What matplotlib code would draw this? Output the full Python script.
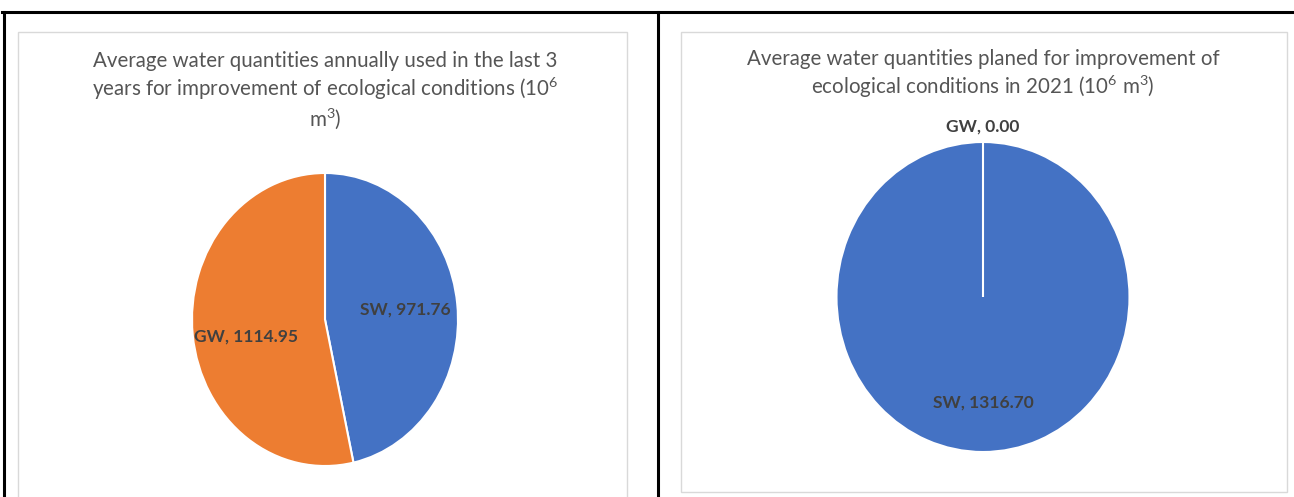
import matplotlib
matplotlib.use("Agg")
import matplotlib.pyplot as plt
from matplotlib.lines import Line2D
from matplotlib.patches import Rectangle
import numpy as np

plt.rcParams['font.family'] = ['Lato', 'DejaVu Sans']
plt.rcParams['mathtext.fontset'] = 'custom'
plt.rcParams['mathtext.rm'] = 'Lato'
plt.rcParams['mathtext.it'] = 'Lato:italic'
plt.rcParams['mathtext.bf'] = 'Lato:bold'
plt.rcParams['mathtext.default'] = 'rm'

# Data
categories = ["SW", "GW"]
used_last3 = [971.76, 1114.95]
planned_2021 = [1316.70, 0.00]
titles = [
    "Average water quantities annually used in the last 3\nyears for improvement of ecological conditions (10$^{6}$\nm$^{3}$)",
    "Average water quantities planed for improvement of\necological conditions in 2021 (10$^{6}$ m$^{3}$)",
]
colors = ["#4472C4", "#ED7D31"]

W, H = 1294, 497
fig = plt.figure(figsize=(W / 100, H / 100), dpi=100)
fig.patch.set_facecolor("white")


def fx(x):
    return x / W


def fy(y):
    return 1 - y / H


# table borders
for (x0, y0, x1, y1) in [(2, 12, W, 12), (4, 12, 4, H), (658, 12, 658, H)]:
    fig.add_artist(Line2D([fx(x0), fx(x1)], [fy(y0), fy(y1)], color="black",
                          lw=2.2, transform=fig.transFigure))

# chart areas
fig.add_artist(Rectangle((fx(18), fy(505)), fx(627 - 18), (505 - 32) / H,
                         transform=fig.transFigure, fill=False,
                         edgecolor="#D9D9D9", lw=1))
fig.add_artist(Rectangle((fx(681), fy(492)), fx(1287 - 681), (492 - 32) / H,
                         transform=fig.transFigure, fill=False,
                         edgecolor="#D9D9D9", lw=1))


def pie_axes(cx, cy, rx, ry):
    return fig.add_axes([fx(cx - rx), fy(cy + ry), 2 * rx / W, 2 * ry / H])


def draw_pie(ax, values, label_pos):
    wedges, _ = ax.pie(values, colors=colors, startangle=90, counterclock=False,
                       wedgeprops=dict(edgecolor="white", linewidth=1.5))
    ax.set_aspect("auto")
    ax.set_xlim(-1, 1)
    ax.set_ylim(-1, 1)
    ax.axis("off")
    for w, cat, val, (r, dy) in zip(wedges, categories, values, label_pos):
        mid = np.deg2rad((w.theta1 + w.theta2) / 2)
        ax.text(r * np.cos(mid), r * np.sin(mid) + dy, f"{cat}, {val:.2f}",
                ha="center", va="center", fontsize=12.5, fontweight="bold",
                color="#404040", clip_on=False)
    return wedges


ax1 = pie_axes(325, 319.5, 133, 146.5)
draw_pie(ax1, used_last3, [(0.61, 0.0), (0.6, -0.05)])

ax2 = pie_axes(983, 297, 146.5, 155)
draw_pie(ax2, planned_2021, [(0.68, 0.0), (1.1, 0.0)])


def draw_title(text, cx, y_first, step=29.5):
    for i, line in enumerate(text.split("\n")):
        fig.text(fx(cx), fy(y_first + i * step), line, ha="center",
                 va="baseline", fontsize=14.8, color="#555555")


# titles
draw_title(titles[0], 325, 67)
draw_title(titles[1], 983, 65)

fig.savefig("out.png", dpi=100, facecolor="white")
